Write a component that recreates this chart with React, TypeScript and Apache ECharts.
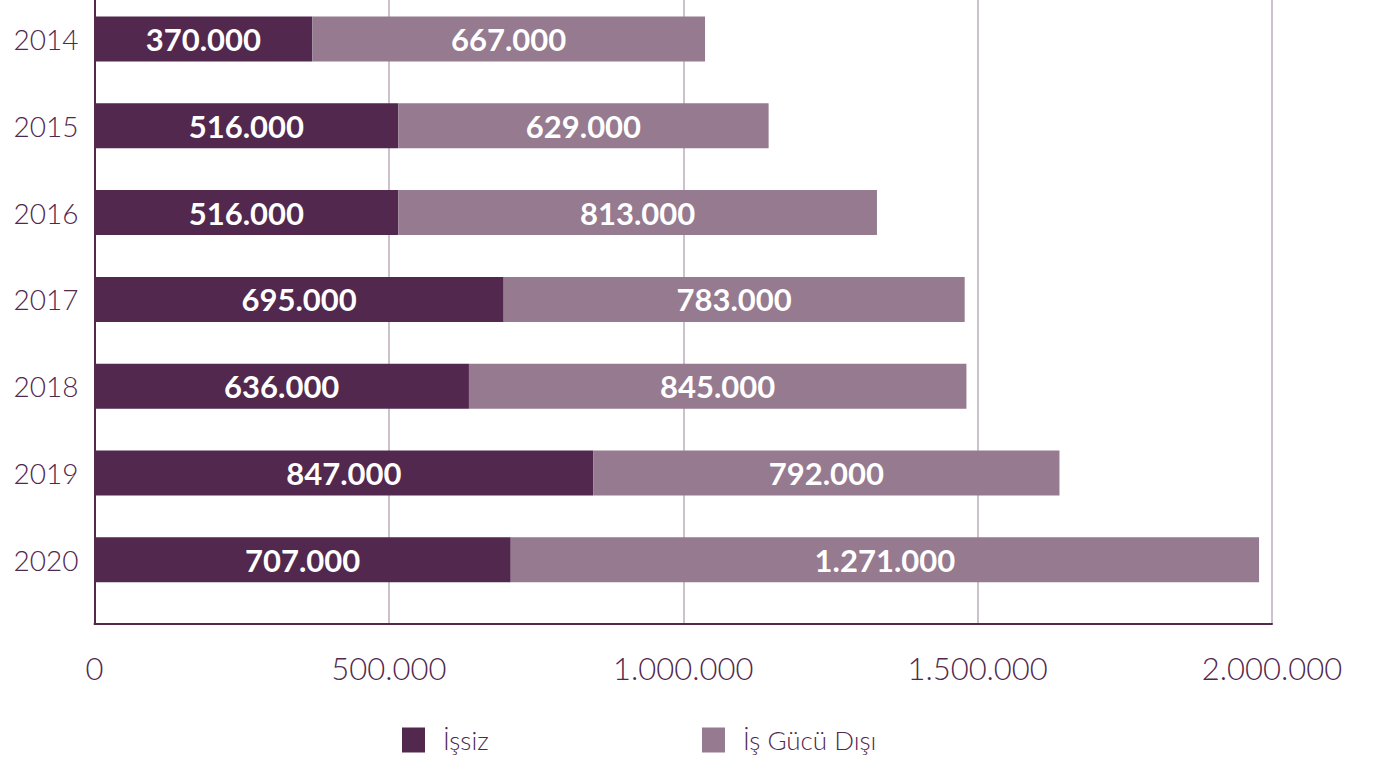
import React, { useEffect, useRef } from "react";
import * as echarts from "echarts";

const years = ["2014", "2015", "2016", "2017", "2018", "2019", "2020"];
const issiz = [370000, 516000, 516000, 695000, 636000, 847000, 707000];
const isGucuDisi = [667000, 629000, 813000, 783000, 845000, 792000, 1271000];
const xTicks = { min: 0, max: 2000000, interval: 500000 };

const DARK = "#52284e";
const LIGHT = "#957a90";
const GRID = "#bcaebb";
const FONT = "Lato";
const SHIFT = 20;

const fmt = (v: number) => String(v).replace(/\B(?=(\d{3})+(?!\d))/g, ".");

export default function App() {
  const ref = useRef<HTMLDivElement>(null);
  useEffect(() => {
    if (!ref.current) return;
    const chart = echarts.init(ref.current, null, { renderer: "svg" });
    const barLabel = {
      show: true,
      position: "inside",
      color: "#ffffff",
      fontFamily: FONT,
      fontWeight: "bold",
      fontSize: 31,
      formatter: (p: any) => fmt(p.value),
    };
    const legendText = { color: DARK, fontSize: 26, fontFamily: FONT, fontWeight: 300, padding: [0, 0, 0, 13] };
    chart.setOption({
      animation: false,
      textStyle: { fontFamily: FONT },
      grid: [
        { left: 94.5, right: 106, top: SHIFT - 4.4, height: 607.6 },
        { left: 94.5, right: 106, top: 0, bottom: 145 },
      ],
      legend: [
        {
          data: ["İşsiz"],
          left: 402,
          top: 727 + SHIFT,
          padding: 0,
          itemWidth: 23,
          itemHeight: 25,
          icon: "rect",
          textStyle: legendText,
        },
        {
          data: ["İş Gücü Dışı"],
          left: 702,
          top: 727 + SHIFT,
          padding: 0,
          itemWidth: 23,
          itemHeight: 25,
          icon: "rect",
          textStyle: legendText,
        },
      ],
      xAxis: [
        { type: "value", gridIndex: 0, min: xTicks.min, max: xTicks.max, interval: xTicks.interval, show: false },
        {
          type: "value",
          gridIndex: 1,
          min: xTicks.min,
          max: xTicks.max,
          interval: xTicks.interval,
          axisLine: { show: true, lineStyle: { color: DARK, width: 2 } },
          axisTick: { show: false },
          splitLine: { show: true, lineStyle: { color: GRID, width: 1.5 } },
          axisLabel: {
            color: DARK,
            fontSize: 31,
            fontFamily: FONT,
            fontWeight: 300,
            margin: 28,
            formatter: (v: number) => fmt(v),
          },
        },
      ],
      yAxis: [
        {
          type: "category",
          gridIndex: 0,
          data: years,
          inverse: true,
          axisLine: { show: false },
          axisTick: { show: false },
          axisLabel: { color: DARK, fontSize: 28, fontFamily: FONT, fontWeight: 300, margin: 16 },
        },
        {
          type: "value",
          gridIndex: 1,
          min: 0,
          max: 1,
          axisLine: { show: true, lineStyle: { color: DARK, width: 2 } },
          axisTick: { show: false },
          axisLabel: { show: false },
          splitLine: { show: false },
        },
      ],
      series: [
        {
          name: "İşsiz",
          type: "bar",
          stack: "total",
          xAxisIndex: 0,
          yAxisIndex: 0,
          barWidth: 45,
          data: issiz,
          itemStyle: { color: DARK },
          label: barLabel,
          z: 3,
        },
        {
          name: "İş Gücü Dışı",
          type: "bar",
          stack: "total",
          xAxisIndex: 0,
          yAxisIndex: 0,
          barWidth: 45,
          data: isGucuDisi,
          itemStyle: { color: LIGHT },
          label: barLabel,
          z: 3,
        },
      ],
    });
    return () => chart.dispose();
  }, []);
  return (
    <div
      ref={ref}
      style={{ position: "absolute", left: 0, top: -SHIFT, width: 1378, height: 769 + SHIFT }}
    />
  );
}
